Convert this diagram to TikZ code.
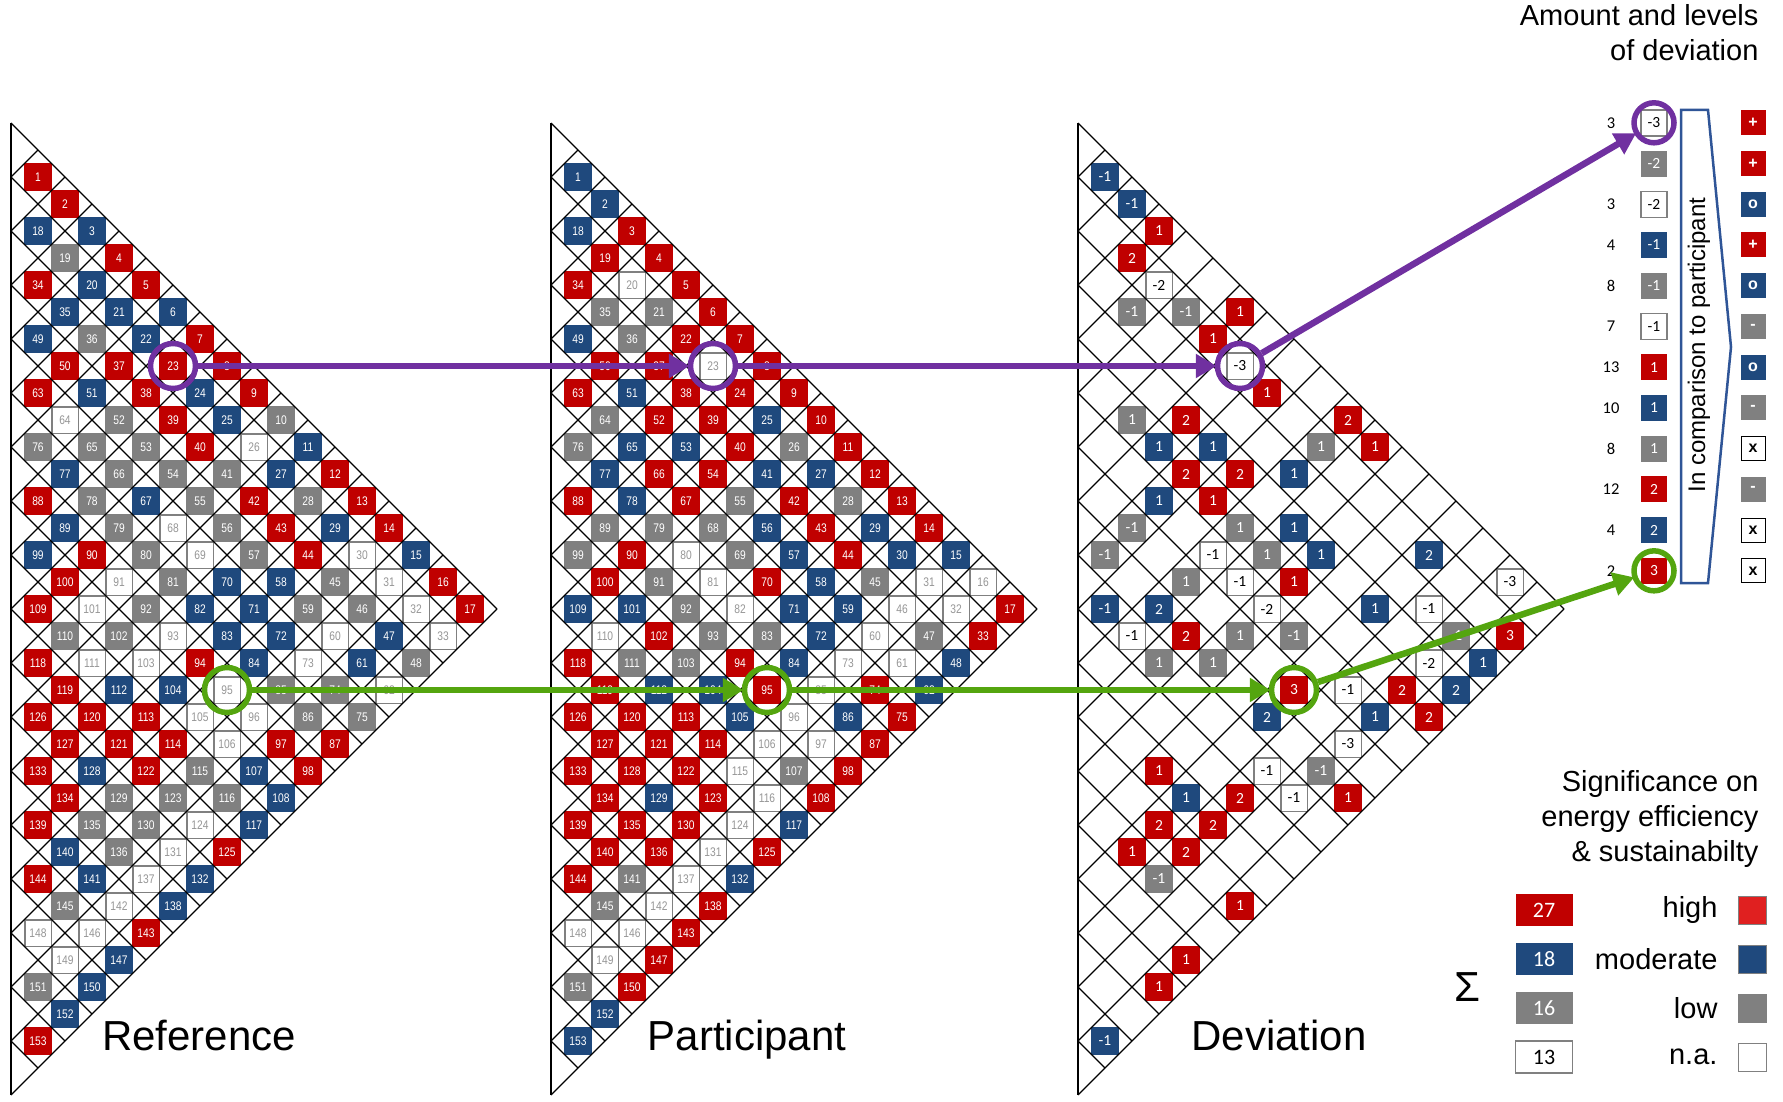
\documentclass[tikz,border=0pt]{standalone}
\usepackage{fontspec}
\setmainfont{Liberation Sans}
\newfontfamily\cellfont[FakeStretch=0.82]{Liberation Sans}
\newfontfamily\calibri{Carlito}
\usetikzlibrary{arrows.meta}
\pgfdeclarelayer{celllayer}
\pgfdeclarelayer{gridlayer}
\pgfsetlayers{celllayer,gridlayer,main}
\definecolor{sqred}{RGB}{192,0,0}
\definecolor{sqblue}{RGB}{31,73,125}
\definecolor{sqgray}{RGB}{128,128,128}
\definecolor{sqtext}{RGB}{150,150,150}
\definecolor{swred}{RGB}{224,32,32}
\definecolor{markpurple}{RGB}{112,48,160}
\definecolor{markgreen}{RGB}{84,165,15}
\definecolor{chevron}{RGB}{47,85,151}
\tikzstyle{gridline}=[draw=black, line width=1.1pt]
\tikzstyle{cell}=[rectangle, inner sep=0pt, minimum size=28pt, font=\cellfont\fontsize{12.5}{12.5}\selectfont]
\tikzstyle{cellR}=[cell, fill=sqred, text=white]
\tikzstyle{cellB}=[cell, fill=sqblue, text=white]
\tikzstyle{cellG}=[cell, fill=sqgray, text=white]
\tikzstyle{cellW}=[cell, fill=white, draw=sqgray, line width=1.5pt, minimum size=26.5pt, text=sqtext]
\tikzstyle{dev}=[rectangle, inner sep=0pt, minimum size=28pt, font=\calibri\fontsize{15.5}{15.5}\selectfont]
\tikzstyle{devR}=[dev, fill=sqred, text=white]
\tikzstyle{devB}=[dev, fill=sqblue, text=white]
\tikzstyle{devG}=[dev, fill=sqgray, text=white]
\tikzstyle{devW}=[dev, fill=white, draw=sqgray, line width=1.5pt, minimum size=26.5pt, text=black]
\tikzstyle{symbox}=[rectangle, inner sep=0pt, minimum size=25pt, font=\bfseries\fontsize{16}{16}\selectfont]
\tikzstyle{symR}=[symbox, fill=sqred, text=white]
\tikzstyle{symB}=[symbox, fill=sqblue, text=white]
\tikzstyle{symG}=[symbox, fill=sqgray, text=white]
\tikzstyle{symW}=[symbox, fill=white, draw=black, line width=1pt, minimum size=24pt, text=black]
\tikzstyle{ring}=[circle, draw, line width=5.5pt, minimum size=45pt, inner sep=0pt]
\tikzstyle{markarrow}=[line width=6.5pt, -{Triangle[length=21pt,width=23pt]}, shorten >=-2pt]
\tikzstyle{biglabel}=[font=\fontsize{42}{42}\selectfont, anchor=base]
\tikzstyle{legtext}=[font=\fontsize{29}{35}\selectfont]

\begin{document}
\begin{tikzpicture}[x=1pt,y=-1pt]
\useasboundingbox (0,0) rectangle (1783,1102);

% grids of the three triangles
\foreach \x in {11,551,1078} {
  \begin{scope}[shift={(\x,123)},x=27pt,y=-27pt]
    \begin{pgfonlayer}{gridlayer}
      \foreach \m in {0,...,17} \draw[style=gridline] (0,2*\m) -- ({18-\m},{18+\m});
      \foreach \m in {1,...,18} \draw[style=gridline] (0,2*\m) -- (\m,\m);
      \draw[line width=2.2pt] (0,0) -- (0,36);
    \end{pgfonlayer}
  \end{scope}
}

% reference
\begin{scope}[shift={(11,123)},x=27pt,y=-27pt]
  \begin{pgfonlayer}{celllayer}
    \foreach \k/\codes in {1/{R,R,B,R,R,B,R,R,R,G,B,R,R,R,B,R,R},
      2/{B,G,B,B,B,R,B,B,W,B,G,B,W,W,W,W}, 3/{R,B,G,R,R,R,R,G,R,R,R,G,G,B,G},
      4/{B,R,B,G,G,G,G,G,G,B,G,W,B,W}, 5/{R,W,G,G,B,W,W,B,B,B,W,G,G},
      6/{G,B,G,G,G,G,B,B,B,G,G,R}, 7/{R,B,R,W,G,W,R,W,W,R,R},
      8/{B,R,W,G,W,B,W,W,B,B}, 9/{R,G,W,B,R,R,G,G,B}, 10/{R,R,R,R,R,G,W,R},
      11/{R,R,B,G,G,W,B}, 12/{R,R,G,G,W,B}, 13/{R,B,B,W,R}, 14/{R,G,W,B},
      15/{W,W,B}, 16/{G,B}, 17/{R}} {
      \pgfmathtruncatemacro\first{(\k-1)*18-(\k-1)*\k/2+1}
      \foreach \c [count=\j from 0] in \codes {
        \pgfmathtruncatemacro\num{\first+\j}
        \node[style=cell\c] (r\num) at ({1+\j},{2*\k+\j}) {\num};
      }
    }
  \end{pgfonlayer}
\end{scope}

% participant
\begin{scope}[shift={(551,123)},x=27pt,y=-27pt]
  \begin{pgfonlayer}{celllayer}
    \foreach \k/\codes in {1/{B,B,R,R,R,R,R,R,R,R,R,R,R,R,B,W,R},
      2/{B,R,W,G,R,W,R,B,G,B,G,B,B,W,W,R}, 3/{R,G,G,R,R,R,R,B,R,R,R,G,W,G,B},
      4/{B,R,B,R,B,R,G,B,B,B,B,W,W,B}, 5/{R,G,B,R,R,G,G,R,B,B,W,R,R},
      6/{G,B,B,G,W,W,W,G,B,W,B,R}, 7/{R,G,R,G,G,G,R,R,W,W,R},
      8/{G,R,B,R,G,B,B,W,G,R}, 9/{B,W,G,B,R,R,W,W,B}, 10/{R,R,R,R,R,R,W,R},
      11/{R,R,R,B,R,W,B}, 12/{R,R,R,R,W,R}, 13/{R,R,G,W,R}, 14/{R,G,W,R},
      15/{W,W,R}, 16/{G,B}, 17/{B}} {
      \pgfmathtruncatemacro\first{(\k-1)*18-(\k-1)*\k/2+1}
      \foreach \c [count=\j from 0] in \codes {
        \pgfmathtruncatemacro\num{\first+\j}
        \node[style=cell\c] (p\num) at ({1+\j},{2*\k+\j}) {\num};
      }
    }
  \end{pgfonlayer}
\end{scope}

% deviation
\begin{scope}[shift={(1078,123)},x=27pt,y=-27pt]
  \begin{pgfonlayer}{celllayer}
    \foreach \a/\b/\v/\c in {1/2/-1/B, 2/3/-1/B, 3/4/1/R, 6/7/1/R, 10/11/2/R, 11/12/1/R,
      16/17/-3/W, 2/5/2/R, 3/6/-2/W, 4/7/-1/G, 5/8/1/R, 6/9/-3/W, 7/10/1/R, 9/12/1/G,
      13/16/2/B, 16/19/3/R, 2/7/-1/G, 8/13/1/B, 13/18/-1/W, 14/19/-1/G, 15/20/1/B,
      4/11/2/R, 5/12/1/B, 6/13/2/R, 8/15/1/B, 9/16/1/B, 11/18/1/B, 13/20/-2/W, 14/21/2/B,
      2/11/1/G, 3/12/1/B, 4/13/2/R, 5/14/1/R, 6/15/1/G, 7/16/1/G, 8/17/1/R, 12/21/2/R,
      13/22/2/R, 3/14/1/B, 5/16/-1/W, 6/17/-1/W, 7/18/-2/W, 8/19/-1/G, 10/21/-1/W,
      11/22/1/B, 2/15/-1/G, 4/17/1/G, 6/19/1/G, 8/21/3/R, 10/23/-3/W, 1/16/-1/G,
      3/18/2/B, 4/19/2/R, 5/20/1/G, 7/22/2/B, 9/24/-1/G, 10/25/1/R, 1/18/-1/B,
      2/19/-1/W, 3/20/1/G, 7/24/-1/W, 8/25/-1/W, 6/25/2/R, 3/24/1/R, 4/25/1/B,
      5/26/2/R, 3/26/2/R, 4/27/2/R, 6/29/1/R, 2/27/1/R, 3/28/-1/G, 4/31/1/R,
      3/32/1/R, 1/34/-1/B} {
      \node[style=dev\c] (d\a-\b) at (\a,\b) {\v};
    }
  \end{pgfonlayer}
\end{scope}

\node[style=biglabel] (reflabel) at (199,1050) {Reference};
\node[style=biglabel] (partlabel) at (747,1050) {Participant};
\node[style=biglabel] (devlabel) at (1279,1050) {Deviation};

% amount and levels of deviation
\node[style=legtext, anchor=north east, align=right] (amount) at (1762,1)
  {Amount and levels\\of deviation};
\foreach \i/\cnt/\v/\c/\s/\sc in {1/3/-3/W/+/R, 2/{}/-2/G/+/R, 3/3/-2/W/o/B,
    4/4/-1/B/+/R, 5/8/-1/G/o/B, 6/7/-1/W/-/G, 7/13/1/R/o/B, 8/10/1/B/-/G,
    9/8/1/G/x/W, 10/12/2/R/-/G, 11/4/2/B/x/W, 12/2/3/R/x/W} {
  \pgfmathsetmacro\yy{122.8+40.73*(\i-1)}
  \node[font=\calibri\fontsize{16.5}{16.5}\selectfont] (cnt\i) at (1611,\yy) {\cnt};
  \node[style=dev\c, minimum size=26pt] (lv\i) at (1654,\yy) {\v};
  \node[style=sym\sc] (sym\i) at (1753,\yy) {\s};
}
\draw[draw=chevron, line width=2.5pt, line join=miter]
  (1681,110) -- (1708,110) -- (1731,347) -- (1708,583) -- (1681,583) -- cycle;
\node[font=\fontsize{24}{24}\selectfont, rotate=90] (cmp) at (1699,345)
  {In comparison to participant};

% significance legend
\node[style=legtext, anchor=north east, align=right] (signif) at (1762,767)
  {Significance on\\energy efficiency\\\& sustainabilty};
\node[font=\fontsize{42}{42}\selectfont] (sigma) at (1467,987) {Σ};
\foreach \i/\n/\c/\lab/\sw in {0/27/R/high/swred, 1/18/B/moderate/sqblue,
    2/16/G/low/sqgray, 3/13/W/n.a./white} {
  \pgfmathsetmacro\yy{910+49*\i}
  \node[style=dev\c, minimum width=57pt, minimum height=32pt,
    font=\calibri\fontsize{22}{22}\selectfont] (sum\i) at (1544,\yy) {\n};
  \node[style=legtext, anchor=east] (lab\i) at (1721,\yy) {\lab};
  \node[rectangle, fill=\sw, draw=sqgray, line width=0.8pt, minimum size=28pt] (sw\i) at (1752,\yy) {};
}

% marked cells
\node[style=ring, draw=markpurple] (ringr) at (r23) {};
\node[style=ring, draw=markpurple] (ringp) at (p23) {};
\node[style=ring, draw=markpurple] (ringd) at (d6-9) {};
\node[style=ring, draw=markpurple, minimum size=40pt] (ringl) at (lv1) {};
\node[style=ring, draw=markgreen] (ringr2) at (r95) {};
\node[style=ring, draw=markgreen] (ringp2) at (p95) {};
\node[style=ring, draw=markgreen] (ringd2) at (d8-21) {};
\node[style=ring, draw=markgreen, minimum size=40pt] (ringl2) at (lv12) {};
\draw[style=markarrow, draw=markpurple, fill=markpurple] (ringr) -- (ringp);
\draw[style=markarrow, draw=markpurple, fill=markpurple] (ringp) -- (ringd);
\draw[style=markarrow, draw=markpurple, fill=markpurple] (ringd) -- (ringl);
\draw[style=markarrow, draw=markgreen, fill=markgreen] (ringr2) -- (ringp2);
\draw[style=markarrow, draw=markgreen, fill=markgreen] (ringp2) -- (ringd2);
\draw[style=markarrow, draw=markgreen, fill=markgreen] (ringd2) -- (ringl2);
\end{tikzpicture}
\end{document}
